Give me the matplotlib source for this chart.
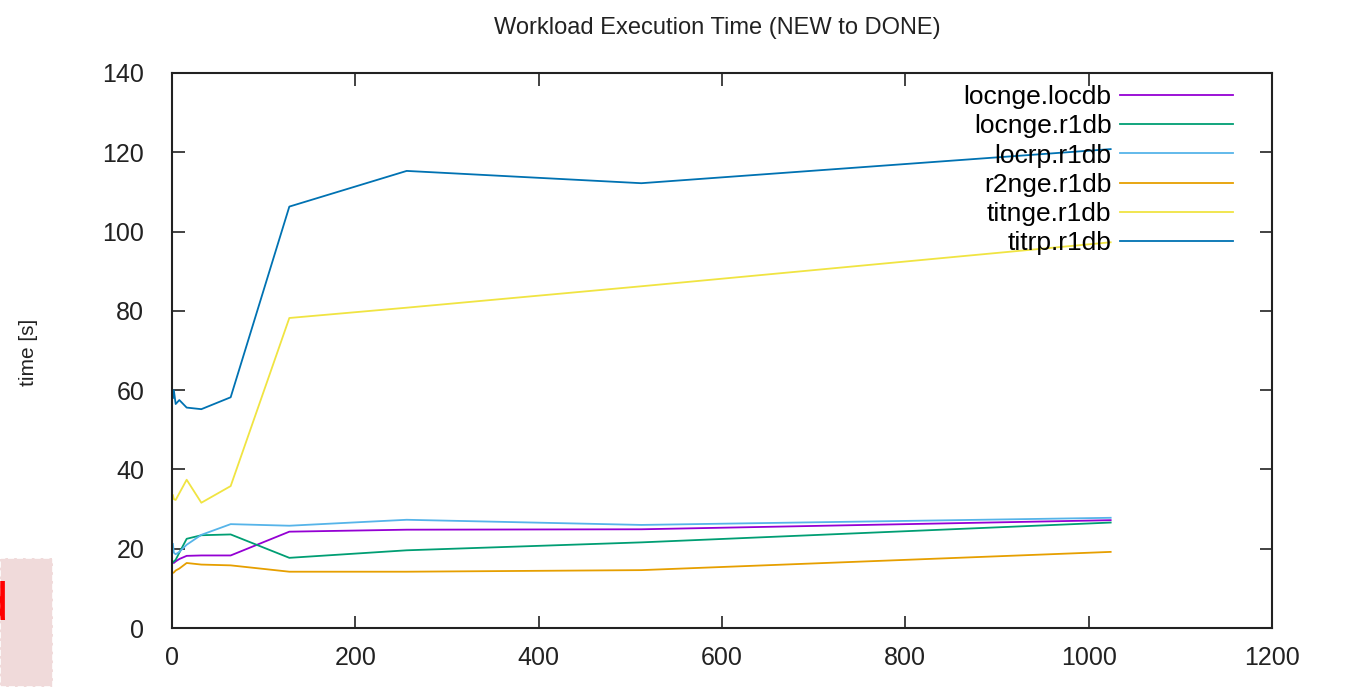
import matplotlib
matplotlib.use('Agg')
from matplotlib import pyplot as plt
from matplotlib.patches import Rectangle

plt.rcParams['font.family'] = ['Liberation Sans', 'DejaVu Sans']

# workload sizes (x) and execution times [s]
sizes = [1, 2, 4, 8, 16, 32, 64, 128, 256, 512, 1024]
locnge_locdb = [16.6, 16.4, 16.8, 17.4, 18.2, 18.3, 18.3, 24.3, 24.8, 24.9, 27.2]
locnge_r1db = [16.6, 16.8, 17.2, 19.0, 22.5, 23.4, 23.6, 17.7, 19.6, 21.6, 26.6]
locrp_r1db = [21.2, 19.0, 18.6, 19.2, 21.0, 23.5, 26.2, 25.8, 27.3, 26.0, 27.8]
r2nge_r1db = [13.9, 14.0, 14.5, 15.0, 16.4, 16.0, 15.8, 14.2, 14.2, 14.6, 19.2]
titnge_r1db = [33.5, 32.5, 32.3, 34.0, 37.4, 31.6, 35.8, 78.2, 80.8, 86.2, 97.3]
titrp_r1db = [58.0, 60.0, 56.5, 57.5, 55.6, 55.2, 58.2, 106.3, 115.3, 112.2, 120.8]

series = [
    ('locnge.locdb', locnge_locdb, '#9400d3'),
    ('locnge.r1db', locnge_r1db, '#009e73'),
    ('locrp.r1db', locrp_r1db, '#56b4e9'),
    ('r2nge.r1db', r2nge_r1db, '#e69f00'),
    ('titnge.r1db', titnge_r1db, '#f0e442'),
    ('titrp.r1db', titrp_r1db, '#0072b2'),
]

fig = plt.figure(figsize=(13.46, 6.87), dpi=100)
ax = fig.add_axes([172 / 1346, 59 / 687, 1100 / 1346, 555 / 687])

for name, vals, col in series:
    ax.plot(sizes, vals, color=col, lw=1.3, label=name)

ax.set_xlim(0, 1200)
ax.set_ylim(0, 140)
ax.set_xticks(range(0, 1201, 200))
ax.set_yticks(range(0, 141, 20))
ax.tick_params(direction='in', length=9, width=1.2, labelsize=18, pad=13,
               top=True, right=True, colors='#222222')
ax.tick_params(axis='y', pad=20)
for sp in ax.spines.values():
    sp.set_linewidth(1.5)
    sp.set_color('#222222')

leg = fig.legend(loc='upper right', bbox_to_anchor=(1233 / 1346, 1 - 85 / 687),
                 frameon=False, markerfirst=False, fontsize=19,
                 handlelength=4.3, handletextpad=0.3, labelspacing=0.2,
                 borderpad=0, borderaxespad=0)

fig.text(717 / 1346, 1 - 28 / 687, 'Workload Execution Time (NEW to DONE)',
         ha='center', va='center', fontsize=17, color='#222222')
fig.text(28 / 1346, 1 - 352 / 687, 'time [s]', rotation=90,
         ha='center', va='center', fontsize=15, color='#222222')

# cut-off pink box at bottom left
fig.patches.append(Rectangle((0, 0), 53 / 1346, 129 / 687, transform=fig.transFigure,
                             facecolor='#f0dada', edgecolor='white', ls='--', lw=1.2))
fig.text(8 / 1346, 1 - 605 / 687, 'd', ha='right', va='center',
         fontsize=38, color='red')

fig.savefig('out.png', dpi=100)
